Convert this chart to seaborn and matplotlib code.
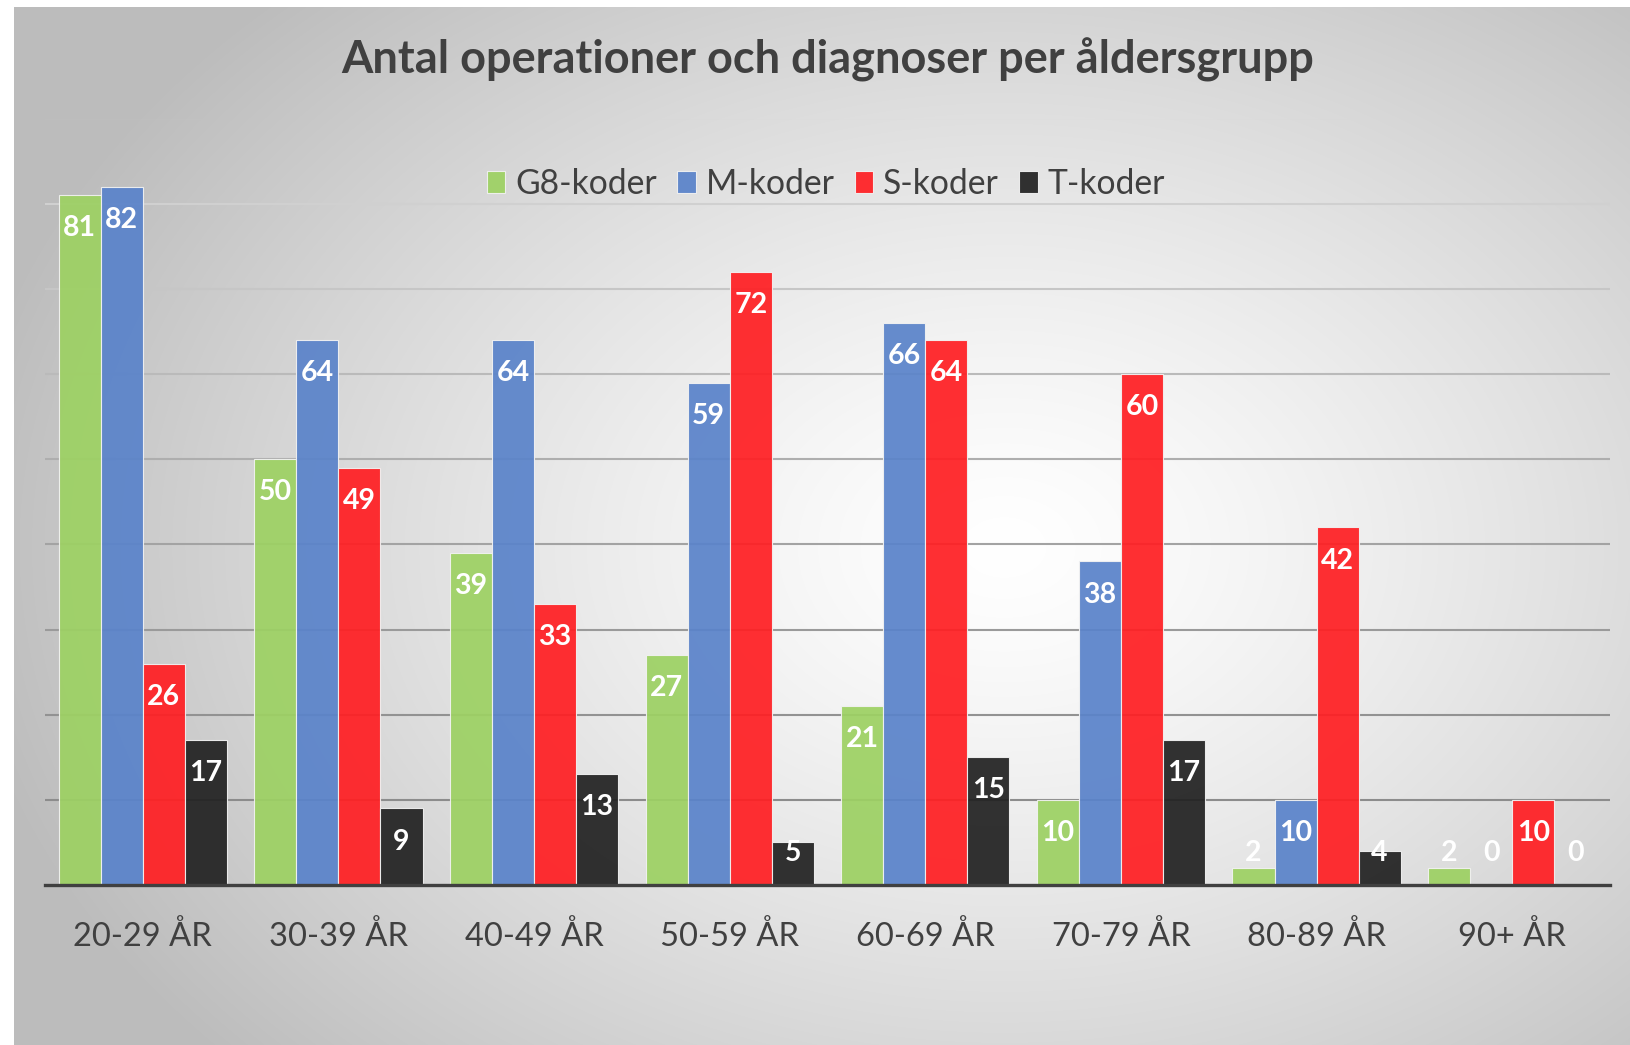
import numpy as np
import pandas as pd
import matplotlib
matplotlib.use("Agg")
import matplotlib.pyplot as plt
import seaborn as sns

# data
kategorier = ["20-29 ÅR", "30-39 ÅR", "40-49 ÅR", "50-59 ÅR",
              "60-69 ÅR", "70-79 ÅR", "80-89 ÅR", "90+ ÅR"]
serier = ["G8-koder", "M-koder", "S-koder", "T-koder"]
g8_koder = [81, 50, 39, 27, 21, 10, 2, 2]
m_koder = [82, 64, 64, 59, 66, 38, 10, 0]
s_koder = [26, 49, 33, 72, 64, 60, 42, 10]
t_koder = [17, 9, 13, 5, 15, 17, 4, 0]

farger = ["#9dd163", "#5a83ca", "#ff1f23", "#222222"]
titel = "Antal operationer och diagnoser per åldersgrupp"

df = pd.DataFrame({
    "grupp": kategorier * 4,
    "kod": np.repeat(serier, len(kategorier)),
    "antal": g8_koder + m_koder + s_koder + t_koder,
})

plt.rcParams["font.family"] = ["Lato", "DejaVu Sans"]
textfarg = "#404040"

W, H = 1631, 1045
fig = plt.figure(figsize=(W / 100, H / 100), dpi=100)
fig.patch.set_facecolor("white")

# radial grey gradient behind the chart (Excel style)
bg = fig.add_axes([14 / W, 0, 1 - 14 / W, 1 - 7 / H])
yy, xx = np.mgrid[0:H - 7, 0:W - 14]
r = np.sqrt(((xx - 990) / 1050.0) ** 2 + ((yy - 540) / 760.0) ** 2)
r = np.clip(r, 0, 1)
ljus = 1.0 - 0.26 * r ** 1.3
bg.imshow(np.dstack([ljus, ljus, ljus]), aspect="auto", interpolation="bilinear")
bg.axis("off")

ax = fig.add_axes([45 / W, 1 - 885 / H, (1610 - 45) / W, (885 - 118.5) / H])
ax.set_facecolor("none")

# gridlines, darker toward the bottom like the reference
grid_farger = ["#8c8c8c", "#929292", "#9a9a9a", "#a3a3a3", "#aeaeae",
               "#bababa", "#c6c6c6", "#d0d0d0", "#d8d8d8"]
for i, c in enumerate(grid_farger):
    ax.axhline((i + 1) * 10, color=c, lw=1.5, zorder=0)

sns.barplot(data=df, x="grupp", y="antal", hue="kod", palette=farger,
            saturation=1, width=0.86, ax=ax, alpha=0.93,
            edgecolor="#f2f2f2", linewidth=0.8, zorder=2)

for cont in ax.containers:
    for p in cont:
        v = p.get_height()
        y = max(v - 3.9, 3.7)
        ax.text(p.get_x() + p.get_width() / 2, y, f"{int(round(v))}",
                ha="center", va="center", color="white",
                fontsize=20.5, fontweight="bold", zorder=4)

ax.set_ylim(0, 90)
ax.set_xlim(-0.5, len(kategorier) - 0.5)
ax.set_xlabel("")
ax.set_ylabel("")
ax.set_yticks([])
for s in ["top", "right", "left"]:
    ax.spines[s].set_visible(False)
ax.spines["bottom"].set_color(textfarg)
ax.spines["bottom"].set_linewidth(2.4)
ax.spines["bottom"].set_zorder(5)
ax.tick_params(axis="x", length=0, pad=26, labelsize=23.5, labelcolor=textfarg)

handles, labels = ax.get_legend_handles_labels()
ax.legend_.remove()
fig.legend(handles, labels, loc="center", bbox_to_anchor=(826 / W, 1 - 184 / H),
           ncol=4, frameon=False, fontsize=24.2, labelcolor=textfarg,
           handlelength=0.55, handleheight=0.65, handletextpad=0.3,
           columnspacing=0.6)

fig.text(828 / W, 1 - 60 / H, titel, ha="center", va="center",
         fontsize=32.5, fontweight="bold", color=textfarg)

fig.savefig("out.png", dpi=100)
